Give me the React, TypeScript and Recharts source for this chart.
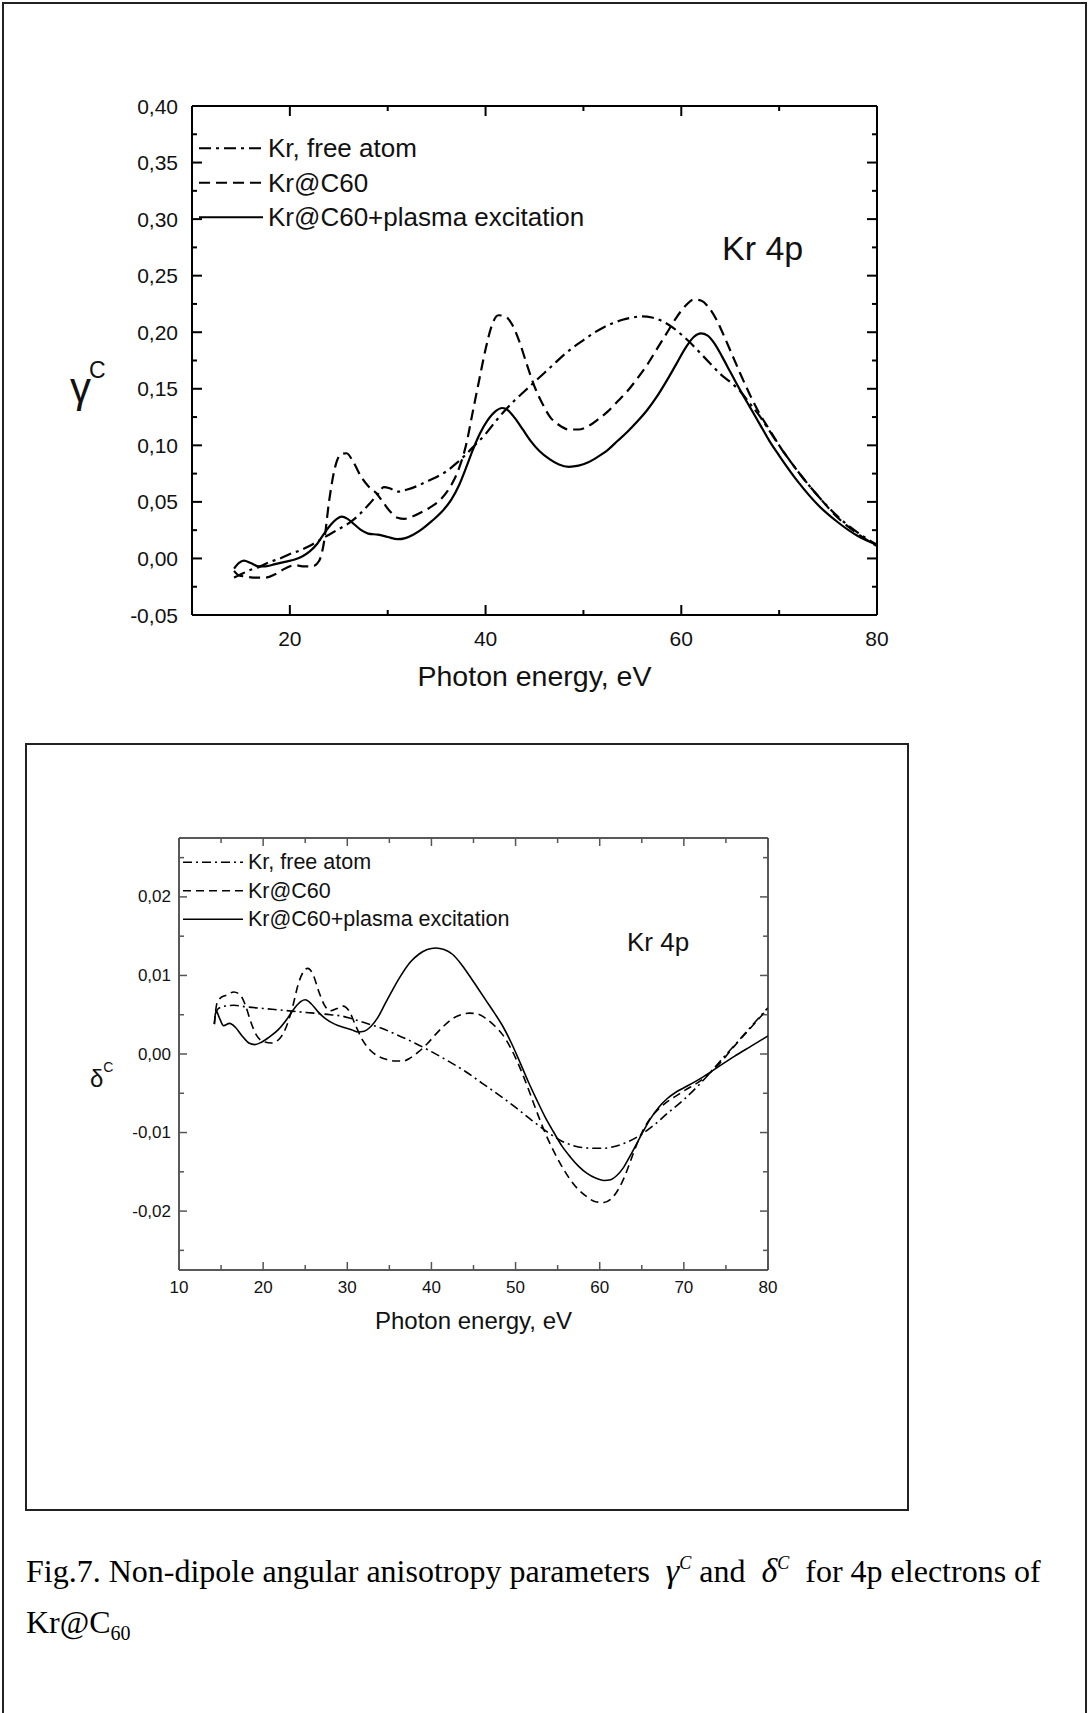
import React from 'react';
import { LineChart, Line, XAxis, YAxis } from 'recharts';

// ---------- data: photon energy (eV) vs. anisotropy parameter ----------
const gammaFreeAtom: number[][] = [
  [14.3, -0.017], [15, -0.014], [16, -0.01], [17, -0.007], [18, -0.003], [19, 0.0], [20, 0.004],
  [21, 0.007], [22, 0.011], [23, 0.016], [24, 0.021], [25, 0.026], [26, 0.031], [27, 0.038],
  [28, 0.047], [29, 0.057], [29.6, 0.063], [30.2, 0.062], [31, 0.059], [32, 0.061], [33, 0.064],
  [34, 0.068], [35, 0.072], [36, 0.077], [37, 0.084], [38, 0.092], [39, 0.101], [40, 0.11],
  [41, 0.121], [42, 0.131], [43, 0.14], [44, 0.148], [45, 0.156], [46, 0.164], [47, 0.172],
  [48, 0.18], [49, 0.187], [50, 0.193], [51, 0.199], [52, 0.204], [53, 0.208], [54, 0.211],
  [55, 0.213], [56, 0.214], [57, 0.213], [58, 0.21], [59, 0.205], [60, 0.198], [61, 0.19],
  [62, 0.181], [63, 0.172], [64, 0.163], [65, 0.156], [66, 0.148], [67, 0.137], [68, 0.126],
  [69, 0.113], [70, 0.1], [72, 0.076], [74, 0.055], [76, 0.037], [78, 0.023], [80, 0.012],
];

const gammaKrC60: number[][] = [
  [14.3, -0.011], [14.8, -0.015], [15.5, -0.016], [16.5, -0.017], [17.5, -0.017], [18.5, -0.014],
  [19.5, -0.009], [20.5, -0.006], [21.5, -0.007], [22.3, -0.007], [23, -0.002], [23.5, 0.015],
  [24, 0.05], [24.6, 0.08], [25.2, 0.092], [25.8, 0.093], [26.5, 0.085], [27.3, 0.072], [28, 0.064],
  [28.8, 0.058], [29.5, 0.05], [30.3, 0.041], [31, 0.036], [31.7, 0.035], [32.5, 0.037],
  [33.5, 0.041], [34.5, 0.046], [35.5, 0.053], [36.5, 0.065], [37.3, 0.08], [38, 0.1],
  [38.7, 0.13], [39.4, 0.16], [40, 0.185], [40.6, 0.205], [41.3, 0.215], [42, 0.214],
  [42.7, 0.207], [43.4, 0.193], [44.2, 0.172], [45, 0.152], [45.8, 0.137], [46.6, 0.125],
  [47.5, 0.118], [48.5, 0.114], [49.5, 0.114], [50.5, 0.117], [51.5, 0.123], [52.5, 0.13],
  [53.5, 0.139], [54.5, 0.148], [55.5, 0.159], [56.5, 0.171], [57.5, 0.185], [58.5, 0.199],
  [59.5, 0.213], [60.5, 0.224], [61.3, 0.229], [62, 0.228], [62.8, 0.222], [63.6, 0.211],
  [64.4, 0.196], [65.2, 0.18], [66, 0.164], [67, 0.145], [68, 0.128], [69, 0.114], [70, 0.1],
  [72, 0.076], [74, 0.055], [76, 0.036], [78, 0.022], [80, 0.011],
];

const gammaPlasma: number[][] = [
  [14.3, -0.009], [14.8, -0.004], [15.3, -0.002], [16, -0.004], [16.8, -0.007], [17.5, -0.007],
  [18.5, -0.005], [19.5, -0.003], [20.5, -0.001], [21.3, 0.002], [22, 0.006], [22.8, 0.013],
  [23.5, 0.022], [24.2, 0.03], [24.8, 0.035], [25.3, 0.037], [25.9, 0.035], [26.6, 0.03],
  [27.3, 0.025], [28, 0.022], [29, 0.021], [30, 0.019], [31, 0.017], [31.8, 0.018], [32.6, 0.021],
  [33.5, 0.026], [34.5, 0.033], [35.5, 0.041], [36.5, 0.052], [37.3, 0.065], [38, 0.08],
  [38.7, 0.096], [39.4, 0.11], [40.2, 0.122], [41, 0.13], [41.7, 0.133], [42.3, 0.131],
  [43, 0.124], [43.8, 0.114], [44.6, 0.104], [45.5, 0.095], [46.5, 0.088], [47.5, 0.083],
  [48.5, 0.081], [49.5, 0.082], [50.5, 0.085], [51.5, 0.09], [52.5, 0.096], [53.5, 0.104],
  [54.5, 0.112], [55.5, 0.121], [56.5, 0.131], [57.5, 0.143], [58.5, 0.157], [59.5, 0.172],
  [60.5, 0.187], [61.3, 0.196], [62, 0.199], [62.7, 0.197], [63.4, 0.19], [64.2, 0.178],
  [65, 0.165], [66, 0.149], [67, 0.134], [68, 0.119], [69, 0.104], [70, 0.091], [72, 0.067],
  [74, 0.047], [76, 0.032], [78, 0.02], [80, 0.012],
];

const deltaFreeAtom: number[][] = [
  [14.3, 0.005], [14.7, 0.0058], [15.5, 0.0061], [16.5, 0.0062], [18, 0.006], [20, 0.0058],
  [22, 0.0056], [24, 0.0054], [26, 0.0052], [28, 0.005], [29.5, 0.0048], [30.5, 0.0045],
  [32, 0.004], [34, 0.0033], [36, 0.0024], [38, 0.0014], [40, 0.0003], [42, -0.0009],
  [44, -0.0022], [46, -0.0037], [48, -0.0052], [50, -0.0068], [52, -0.0085], [54, -0.0101],
  [55.5, -0.0111], [57, -0.0117], [59, -0.012], [60.5, -0.012], [62, -0.0117], [63.5, -0.0111],
  [65, -0.0102], [66.5, -0.009], [68, -0.0076], [70, -0.0058], [72, -0.0037], [74, -0.0013],
  [76, 0.0011], [78, 0.0035], [80, 0.0059],
];

const deltaKrC60: number[][] = [
  [14.2, 0.0038], [14.5, 0.0064], [15, 0.0072], [15.7, 0.0075], [16.5, 0.0079], [17.2, 0.0076],
  [17.9, 0.0062], [18.5, 0.0042], [19.2, 0.0024], [20, 0.0016], [21, 0.0014], [22, 0.002],
  [22.8, 0.0036], [23.5, 0.006], [24.2, 0.009], [24.8, 0.0105], [25.3, 0.0109], [25.9, 0.0102],
  [26.6, 0.008], [27.3, 0.0062], [28, 0.0055], [28.8, 0.0058], [29.5, 0.0061], [30.2, 0.0055],
  [31, 0.0036], [31.8, 0.0018], [32.7, 0.0005], [33.7, -0.0003], [34.7, -0.0007], [35.7, -0.0009],
  [36.6, -0.0009], [37.5, -0.0005], [38.5, 0.0003], [39.5, 0.0013], [40.5, 0.0025], [41.5, 0.0036],
  [42.5, 0.0045], [43.5, 0.005], [44.5, 0.0052], [45.5, 0.0051], [46.5, 0.0045], [47.5, 0.0036],
  [48.5, 0.0024], [49.5, 0.0006], [50.5, -0.0017], [51.5, -0.0044], [52.5, -0.0073],
  [53.5, -0.01], [54.5, -0.0123], [55.5, -0.0143], [56.5, -0.016], [57.5, -0.0173],
  [58.5, -0.0182], [59.5, -0.0188], [60.5, -0.0189], [61.3, -0.0185], [62, -0.0176],
  [62.8, -0.016], [63.6, -0.0138], [64.4, -0.0115], [65.2, -0.0096], [66, -0.0082], [67, -0.007],
  [68, -0.0061], [69, -0.0054], [70, -0.0047], [72, -0.0034], [74, -0.0015], [76, 0.001],
  [78, 0.0034], [80, 0.0058],
];

const deltaPlasma: number[][] = [
  [14.2, 0.0038], [14.4, 0.0055], [14.8, 0.0046], [15.3, 0.0036], [16, 0.0039], [16.7, 0.0034],
  [17.5, 0.0023], [18.3, 0.0014], [19, 0.0012], [19.8, 0.0015], [20.8, 0.0022], [21.8, 0.0031],
  [22.8, 0.0044], [23.7, 0.0058], [24.5, 0.0067], [25, 0.0069], [25.7, 0.0064], [26.5, 0.0054],
  [27.4, 0.0045], [28.5, 0.0038], [29.5, 0.0034], [30.5, 0.0031], [31.3, 0.0028], [32, 0.0029],
  [32.8, 0.0035], [33.6, 0.0046], [34.5, 0.0064], [35.5, 0.0084], [36.5, 0.0102], [37.5, 0.0117],
  [38.5, 0.0127], [39.5, 0.0133], [40.5, 0.0135], [41.5, 0.0133], [42.5, 0.0127], [43.5, 0.0115],
  [44.5, 0.01], [45.5, 0.0084], [46.5, 0.0068], [47.5, 0.0052], [48.5, 0.0035], [49.5, 0.0014],
  [50.5, -0.001], [51.5, -0.0035], [52.5, -0.0058], [53.5, -0.008], [54.5, -0.0099],
  [55.5, -0.0117], [56.5, -0.0131], [57.5, -0.0143], [58.5, -0.0152], [59.5, -0.0158],
  [60.5, -0.0161], [61.3, -0.016], [62, -0.0155], [62.8, -0.0145], [63.6, -0.013], [64.4, -0.0114],
  [65.2, -0.0098], [66, -0.0083], [67, -0.0068], [68, -0.0057], [69, -0.0049], [70, -0.0043],
  [72, -0.0031], [74, -0.0017], [76, -0.0003], [78, 0.001], [80, 0.0023],
];

// ---------- axes: tick positions and labelled values ----------
const seriesNames = ['Kr, free atom', 'Kr@C60', 'Kr@C60+plasma excitation'];

const gammaXTicks = [10, 20, 30, 40, 50, 60, 70, 80];
const gammaXLabels = [20, 40, 60, 80];
const gammaYTicks = [-0.05, -0.025, 0, 0.025, 0.05, 0.075, 0.1, 0.125, 0.15, 0.175, 0.2, 0.225, 0.25, 0.275, 0.3, 0.325, 0.35, 0.375, 0.4];
const gammaYLabels = [-0.05, 0, 0.05, 0.1, 0.15, 0.2, 0.25, 0.3, 0.35, 0.4];

const deltaXTicks = [10, 15, 20, 25, 30, 35, 40, 45, 50, 55, 60, 65, 70, 75, 80];
const deltaXLabels = [10, 20, 30, 40, 50, 60, 70, 80];
const deltaYTicks = [-0.025, -0.02, -0.015, -0.01, -0.005, 0, 0.005, 0.01, 0.015, 0.02, 0.025];
const deltaYLabels = [-0.02, -0.01, 0, 0.01, 0.02];

const toPoints = (rows: number[][]) => rows.map(([x, y]) => ({ x, y }));
const has = (list: number[], v: number) => list.some((u) => Math.abs(u - v) < 1e-9);
const comma = (v: number, digits: number) => {
  const s = (Math.abs(v) < 1e-12 ? 0 : v).toFixed(digits);
  return s.replace('.', ',');
};

const SANS = '"Liberation Sans", Arimo, Arial, Helvetica, sans-serif';
const SERIF = '"Liberation Serif", "Times New Roman", Times, serif';

type Side = 'bottom' | 'top' | 'left' | 'right';
type AxisStyle = {
  axisColor: string;
  tickColor: string;
  axisWidth: number;
  majorLen: number;
  minorLen: number;
  fontSize: number;
  xLabelOffset: number;
  yLabelGap: number;
  digits: number;
};

// Ticks point into the plotting area; recharts hands us the axis-line position (tickSize = tickMargin = 0).
function renderTick(p: any, side: Side, labels: number[], st: AxisStyle, showText: boolean) {
  const { x, y, payload } = p;
  const v = payload.value as number;
  const major = has(labels, v);
  const len = major ? st.majorLen : st.minorLen;
  let line: React.ReactNode = null;
  let text: React.ReactNode = null;
  const lineProps = { stroke: st.tickColor, strokeWidth: st.axisWidth };
  if (side === 'bottom') {
    line = <line x1={x} y1={y} x2={x} y2={y - len} {...lineProps} />;
    if (major && showText)
      text = (
        <text x={x} y={y + st.xLabelOffset} textAnchor="middle" dominantBaseline="central" fontSize={st.fontSize} fontFamily={SANS} fill="#111">
          {String(v)}
        </text>
      );
  } else if (side === 'top') {
    line = <line x1={x} y1={y} x2={x} y2={y + len} {...lineProps} />;
  } else if (side === 'left') {
    line = <line x1={x} y1={y} x2={x + len} y2={y} {...lineProps} />;
    if (major && showText)
      text = (
        <text x={x - st.yLabelGap} y={y} textAnchor="end" dominantBaseline="central" fontSize={st.fontSize} fontFamily={SANS} fill="#111">
          {comma(v, st.digits)}
        </text>
      );
  } else {
    line = <line x1={x} y1={y} x2={x - len} y2={y} {...lineProps} />;
  }
  return (
    <g>
      {line}
      {text}
    </g>
  );
}

type Series = { name: string; data: number[][]; dash?: string };

type PanelProps = {
  width: number;
  height: number;
  margin: { top: number; right: number; bottom: number; left: number };
  series: Series[];
  xTicks: number[];
  xLabels: number[];
  yTicks: number[];
  yLabels: number[];
  yDomain: [number, number];
  st: AxisStyle;
  lineWidth: number;
  xTitle: string;
  xTitleOffset: number;
  xTitleSize: number;
  yTitle: (vb: any) => React.ReactNode;
};

function Panel(props: PanelProps) {
  const { st } = props;
  const axisLine = { stroke: st.axisColor, strokeWidth: st.axisWidth };
  return (
    <LineChart width={props.width} height={props.height} margin={props.margin}>
      <XAxis
        xAxisId="bottom"
        dataKey="x"
        type="number"
        domain={[10, 80]}
        allowDataOverflow
        ticks={props.xTicks}
        interval={0}
        tickSize={0}
        tickMargin={0}
        tickLine={false}
        axisLine={axisLine}
        height={80}
        tick={(p: any) => renderTick(p, 'bottom', props.xLabels, st, true)}
        label={{
          content: (lp: any) => {
            const vb = lp.viewBox;
            return (
              <text
                x={vb.x + vb.width / 2}
                y={vb.y + props.xTitleOffset}
                textAnchor="middle"
                dominantBaseline="central"
                fontSize={props.xTitleSize}
                fontFamily={SANS}
                fill="#111"
              >
                {props.xTitle}
              </text>
            );
          },
        }}
      />
      <XAxis
        xAxisId="top"
        orientation="top"
        dataKey="x"
        type="number"
        domain={[10, 80]}
        allowDataOverflow
        ticks={props.xTicks}
        interval={0}
        tickSize={0}
        tickMargin={0}
        tickLine={false}
        axisLine={axisLine}
        height={10}
        tick={(p: any) => renderTick(p, 'top', props.xLabels, st, false)}
      />
      <YAxis
        yAxisId="left"
        type="number"
        domain={props.yDomain}
        allowDataOverflow
        ticks={props.yTicks}
        interval={0}
        tickSize={0}
        tickMargin={0}
        tickLine={false}
        axisLine={axisLine}
        width={100}
        tick={(p: any) => renderTick(p, 'left', props.yLabels, st, true)}
        label={{ content: (lp: any) => props.yTitle(lp.viewBox) }}
      />
      <YAxis
        yAxisId="right"
        orientation="right"
        type="number"
        domain={props.yDomain}
        allowDataOverflow
        ticks={props.yTicks}
        interval={0}
        tickSize={0}
        tickMargin={0}
        tickLine={false}
        axisLine={axisLine}
        width={10}
        tick={(p: any) => renderTick(p, 'right', props.yLabels, st, false)}
      />
      {props.series.map((s) => (
        <Line
          key={s.name}
          xAxisId="bottom"
          yAxisId="left"
          data={toPoints(s.data)}
          dataKey="y"
          name={s.name}
          type="monotone"
          stroke="#000"
          strokeWidth={props.lineWidth}
          strokeDasharray={s.dash}
          dot={false}
          activeDot={false}
          isAnimationActive={false}
        />
      ))}
    </LineChart>
  );
}

type LegendProps = {
  left: number;
  top: number;
  rowGap: number;
  lineLen: number;
  textGap: number;
  fontSize: number;
  lineWidth: number;
  series: Series[];
};

function LegendBox(p: LegendProps) {
  const h = p.rowGap * p.series.length + 10;
  return (
    <svg style={{ position: 'absolute', left: p.left, top: p.top - p.rowGap / 2, overflow: 'visible' }} width={500} height={h}>
      {p.series.map((s, i) => {
        const cy = p.rowGap / 2 + i * p.rowGap;
        return (
          <g key={s.name}>
            <line x1={0} y1={cy} x2={p.lineLen} y2={cy} stroke="#000" strokeWidth={p.lineWidth} strokeDasharray={s.dash} />
            <text x={p.lineLen + p.textGap} y={cy} dominantBaseline="central" fontSize={p.fontSize} fontFamily={SANS} fill="#111">
              {s.name}
            </text>
          </g>
        );
      })}
    </svg>
  );
}

const gammaSeries: Series[] = [
  { name: seriesNames[0], data: gammaFreeAtom, dash: '12 5 3 5' },
  { name: seriesNames[1], data: gammaKrC60, dash: '11 6' },
  { name: seriesNames[2], data: gammaPlasma },
];

const deltaSeries: Series[] = [
  { name: seriesNames[0], data: deltaFreeAtom, dash: '9 4 2 4' },
  { name: seriesNames[1], data: deltaKrC60, dash: '8 5' },
  { name: seriesNames[2], data: deltaPlasma },
];

const gammaStyle: AxisStyle = {
  axisColor: '#000',
  tickColor: '#000',
  axisWidth: 2,
  majorLen: 10,
  minorLen: 5,
  fontSize: 21,
  xLabelOffset: 23,
  yLabelGap: 14,
  digits: 2,
};

const deltaStyle: AxisStyle = {
  axisColor: '#222',
  tickColor: '#555',
  axisWidth: 1.5,
  majorLen: 8,
  minorLen: 5,
  fontSize: 17,
  xLabelOffset: 17,
  yLabelGap: 8,
  digits: 2,
};

const capSup: React.CSSProperties = { fontStyle: 'italic', fontSize: 18, position: 'relative', top: -13 };

export default function App() {
  return (
    <div
      style={{
        position: 'absolute',
        left: 0,
        top: 0,
        width: 1089,
        height: 1713,
        background: '#fff',
        overflow: 'hidden',
        fontFamily: SANS,
      }}
    >
      {/* page frame */}
      <div style={{ position: 'absolute', left: 2, top: 2, width: 1085, height: 1760, border: '2px solid #222', boxSizing: 'border-box' }} />

      {/* gamma^C panel */}
      <div style={{ position: 'absolute', left: 0, top: 0 }}>
        <Panel
          width={1089}
          height={720}
          margin={{ top: 96, right: 202, bottom: 25, left: 92 }}
          series={gammaSeries}
          xTicks={gammaXTicks}
          xLabels={gammaXLabels}
          yTicks={gammaYTicks}
          yLabels={gammaYLabels}
          yDomain={[-0.05, 0.4]}
          st={gammaStyle}
          lineWidth={2.2}
          xTitle="Photon energy, eV"
          xTitleOffset={61}
          xTitleSize={28.5}
          yTitle={() => (
            <text x={70} y={402} fontFamily={SANS} fill="#111" fontSize={42}>
              γ
              <tspan fontSize={23} dx={-2} dy={-24}>
                C
              </tspan>
            </text>
          )}
        />
      </div>
      <LegendBox left={199} top={148} rowGap={34.5} lineLen={64} textGap={5} fontSize={26} lineWidth={2.2} series={gammaSeries} />
      <div style={{ position: 'absolute', left: 722, top: 229, fontSize: 34, lineHeight: '39px', color: '#111', whiteSpace: 'nowrap' }}>Kr 4p</div>

      {/* delta^C panel in its own frame */}
      <div style={{ position: 'absolute', left: 25, top: 743, width: 884, height: 768, border: '2px solid #222', boxSizing: 'border-box' }} />
      <div style={{ position: 'absolute', left: 0, top: 720 }}>
        <Panel
          width={1089}
          height={640}
          margin={{ top: 108, right: 311, bottom: 10, left: 79 }}
          series={deltaSeries}
          xTicks={deltaXTicks}
          xLabels={deltaXLabels}
          yTicks={deltaYTicks}
          yLabels={deltaYLabels}
          yDomain={[-0.0275, 0.0275]}
          st={deltaStyle}
          lineWidth={1.6}
          xTitle="Photon energy, eV"
          xTitleOffset={50}
          xTitleSize={24}
          yTitle={() => (
            <text x={90} y={367} fontFamily={SANS} fill="#111" fontSize={24}>
              δ
              <tspan fontSize={14} dx={0} dy={-15}>
                C
              </tspan>
            </text>
          )}
        />
      </div>
      <LegendBox left={183} top={862} rowGap={28.5} lineLen={60} textGap={5} fontSize={21.5} lineWidth={1.6} series={deltaSeries} />
      <div style={{ position: 'absolute', left: 627, top: 927, fontSize: 26, lineHeight: '30px', color: '#111', whiteSpace: 'nowrap' }}>Kr 4p</div>

      {/* caption */}
      <div
        style={{
          position: 'absolute',
          left: 26,
          top: 1548,
          width: 1060,
          fontFamily: SERIF,
          fontSize: 32,
          lineHeight: '46px',
          color: '#000',
          whiteSpace: 'pre',
        }}
      >
        {'Fig.7. Non-dipole angular anisotropy parameters  '}
        <span style={{ fontStyle: 'italic', fontSize: 34 }}>γ</span>
        <span style={capSup}>C</span>
        {' and  '}
        <span style={{ fontStyle: 'italic', fontSize: 34 }}>δ</span>
        <span style={capSup}>C</span>
        {'  for 4p electrons of'}
        <br />
        Kr@C<span style={{ fontSize: 20, position: 'relative', top: 7 }}>60</span>
      </div>
    </div>
  );
}
